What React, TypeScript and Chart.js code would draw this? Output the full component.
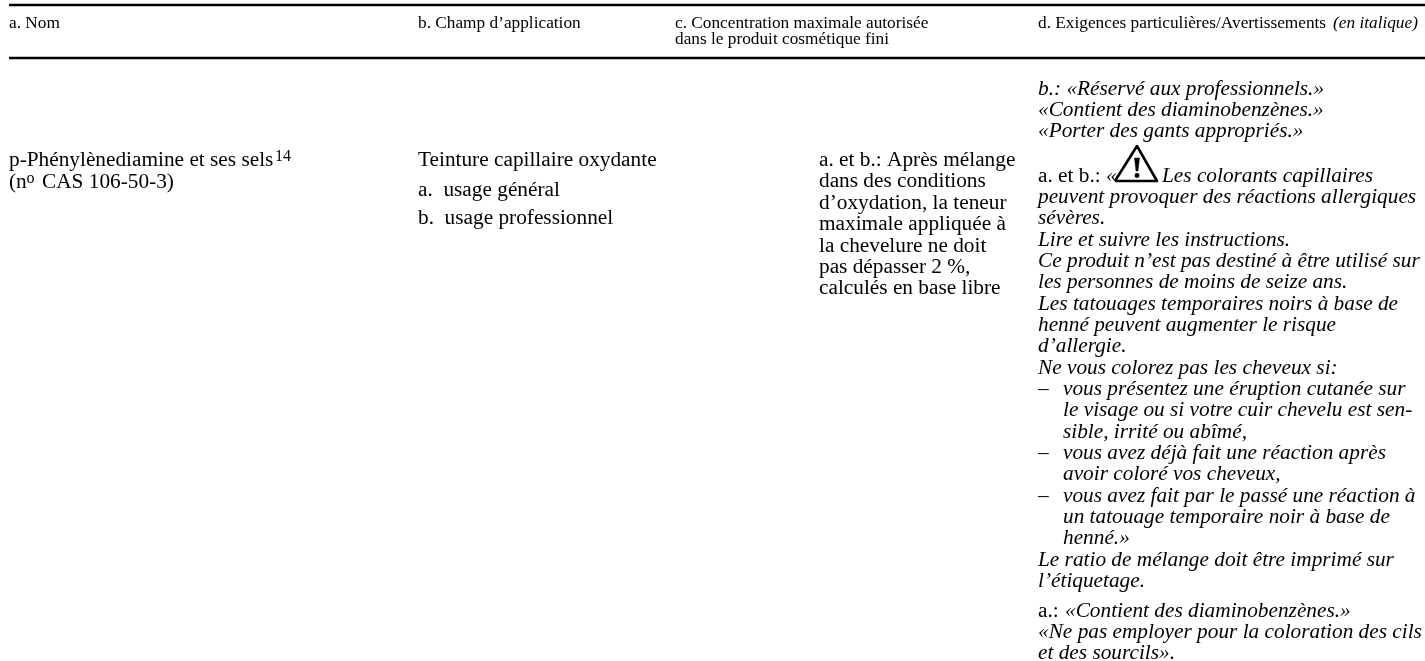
import React, { useEffect, useRef } from "react";
import { Chart, registerables } from "chart.js";

Chart.register(...registerables);

const W = 1425;
const H = 661;
const SERIF = '"Liberation Serif", "Times New Roman", serif';

// rules of the table
const ruleYs = [5, 58];
const ruleX = [9, 1425];

// warning pictogram
const triangleX = [1115, 1137, 1157, 1115];
const triangleY = [181, 146, 181, 181];
const barX = [1134.5, 1139.5, 1138, 1136, 1134.5];
const barY = [158, 158, 171, 171, 158];
const dotX = [1137];
const dotY = [175.5];

type Run = [number, number, string, string];
// x, baseline y, text, style (h = header, hi = header italic, n = normal, i = italic, s = superscript)
const headerRuns: Run[] = [
  [9, 28, "a. Nom", "h"],
  [418, 28, "b. Champ d’application", "h"],
  [675, 28, "c. Concentration maximale autorisée", "h"],
  [675, 44, "dans le produit cosmétique fini", "h"],
  [1038, 28, "d. Exigences particulières/Avertissements", "h"],
  [1333, 28, "(en italique)", "hi"],
];
const col1Runs: Run[] = [
  [9, 166, "p-Phénylènediamine et ses sels", "n"],
  [275, 161, "14", "s"],
  [9, 188, "(n", "n"],
  [26.5, 183, "o", "s"],
  [42, 188, "CAS 106-50-3)", "n"],
];
const col2Runs: Run[] = [
  [418, 166, "Teinture capillaire oxydante", "n"],
  [418, 196, "a.  usage général", "n"],
  [418, 224, "b.  usage professionnel", "n"],
];
const col3Runs: Run[] = [
  [819, 166, "a. et b.: Après mélange", "n"],
  [819, 187, "dans des conditions", "n"],
  [819, 209, "d’oxydation, la teneur", "n"],
  [819, 230, "maximale appliquée à", "n"],
  [819, 252, "la chevelure ne doit", "n"],
  [819, 273, "pas dépasser 2 %,", "n"],
  [819, 294, "calculés en base libre", "n"],
];
const col4Runs: Run[] = [
  [1038, 95, "b.: «Réservé aux professionnels.»", "i"],
  [1038, 116, "«Contient des diaminobenzènes.»", "i"],
  [1038, 137, "«Porter des gants appropriés.»", "i"],
  [1038, 182, "a. et b.:", "n"],
  [1106, 182, "«", "i"],
  [1162, 182, "Les colorants capillaires", "i"],
  [1038, 203, "peuvent provoquer des réactions allergiques", "i"],
  [1038, 224, "sévères.", "i"],
  [1038, 246, "Lire et suivre les instructions.", "i"],
  [1038, 267, "Ce produit n’est pas destiné à être utilisé sur", "i"],
  [1038, 288, "les personnes de moins de seize ans.", "i"],
  [1038, 310, "Les tatouages temporaires noirs à base de", "i"],
  [1038, 331, "henné peuvent augmenter le risque", "i"],
  [1038, 352, "d’allergie.", "i"],
  [1038, 374, "Ne vous colorez pas les cheveux si:", "i"],
  [1038, 395, "–", "n"],
  [1063, 395, "vous présentez une éruption cutanée sur", "i"],
  [1063, 416, "le visage ou si votre cuir chevelu est sen-", "i"],
  [1063, 438, "sible, irrité ou abîmé,", "i"],
  [1038, 459, "–", "n"],
  [1063, 459, "vous avez déjà fait une réaction après", "i"],
  [1063, 480, "avoir coloré vos cheveux,", "i"],
  [1038, 502, "–", "n"],
  [1063, 502, "vous avez fait par le passé une réaction à", "i"],
  [1063, 523, "un tatouage temporaire noir à base de", "i"],
  [1063, 544, "henné.»", "i"],
  [1038, 566, "Le ratio de mélange doit être imprimé sur", "i"],
  [1038, 587, "l’étiquetage.", "i"],
  [1038, 617, "a.:", "n"],
  [1065, 617, "«Contient des diaminobenzènes.»", "i"],
  [1038, 638, "«Ne pas employer pour la coloration des cils", "i"],
  [1038, 659, "et des sourcils».", "i"],
];
const allRuns: Run[] = [...headerRuns, ...col1Runs, ...col2Runs, ...col3Runs, ...col4Runs];

const fonts: Record<string, string> = {
  h: `17.3px ${SERIF}`,
  hi: `italic 17.3px ${SERIF}`,
  n: `21.3px ${SERIF}`,
  i: `italic 21.3px ${SERIF}`,
  s: `16px ${SERIF}`,
};

const zip = (xs: number[], ys: number[]) => xs.map((x, i) => ({ x, y: ys[i] }));

const tablePlugin = {
  id: "tableText",
  afterDatasetsDraw(chart: any) {
    const { ctx, scales } = chart;
    ctx.save();
    ctx.fillStyle = "#000";
    ctx.textBaseline = "alphabetic";
    ctx.textAlign = "left";
    for (const [x, y, text, style] of allRuns) {
      ctx.font = fonts[style];
      ctx.fillText(text, scales.x.getPixelForValue(x), scales.y.getPixelForValue(y));
    }
    ctx.restore();
  },
};

export default function App() {
  const ref = useRef<HTMLCanvasElement>(null);
  useEffect(() => {
    document.body.style.margin = "0";
    document.body.style.background = "#fff";
    const line = (data: { x: number; y: number }[], width: number, join = "miter") => ({
      type: "line",
      data,
      borderColor: "#000",
      borderWidth: width,
      borderJoinStyle: join,
      pointRadius: 0,
      fill: false,
      tension: 0,
      clip: false,
    });
    const chart = new Chart(ref.current!, {
      type: "scatter",
      data: {
        datasets: [
          ...ruleYs.map((y) => line(zip(ruleX, [y, y]), 2.3)),
          line(zip(triangleX, triangleY), 2.6, "round"),
          { ...line(zip(barX, barY), 0.5, "round"), fill: "shape", backgroundColor: "#000" },
          {
            type: "scatter",
            data: zip(dotX, dotY),
            backgroundColor: "#000",
            borderWidth: 0,
            pointRadius: 2.4,
          },
        ],
      } as any,
      options: {
        responsive: false,
        animation: false,
        layout: { padding: 0, autoPadding: false },
        plugins: { legend: { display: false }, tooltip: { enabled: false }, title: { display: false } },
        scales: {
          x: { type: "linear", min: 0, max: W, display: false },
          y: { type: "linear", min: 0, max: H, reverse: true, display: false },
        },
      },
      plugins: [tablePlugin],
    } as any);
    return () => chart.destroy();
  }, []);
  return <canvas ref={ref} width={W} height={H} style={{ display: "block" }} />;
}
